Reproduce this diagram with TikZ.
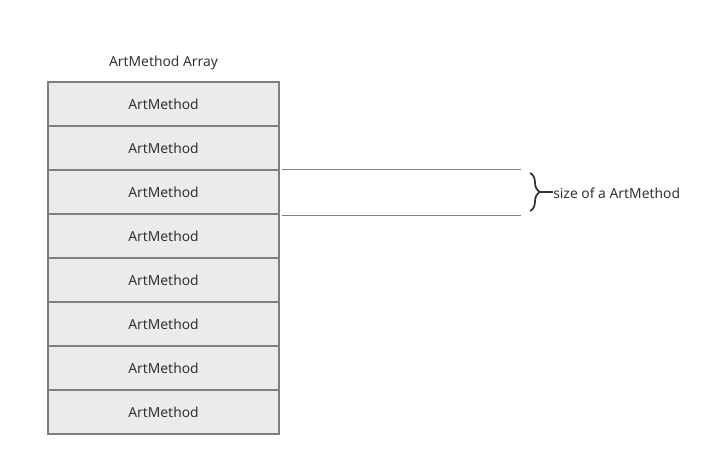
\documentclass[tikz,border=0pt]{standalone}
\usepackage{fontspec}
\setmainfont{Noto Sans}
\usetikzlibrary{decorations.pathreplacing}
\definecolor{cellfill}{HTML}{EBEBEB}
\definecolor{cellline}{HTML}{7F7F7F}
\definecolor{txt}{HTML}{333333}
\tikzset{
  cell/.style={draw=cellline, line width=1.4pt, fill=cellfill, minimum width=173.25pt, minimum height=33pt, inner sep=0pt, text=txt, font=\fontsize{10.4}{12}\selectfont},
  label text/.style={text=txt, font=\fontsize{10.4}{12}\selectfont, inner sep=0pt},
  guide/.style={draw=cellline, line width=0.6pt}
}
\begin{document}
\begin{tikzpicture}[x=0.75pt, y=-0.75pt]
        \useasboundingbox (0,0) rectangle (715,466);
        % array title
        \node[label text] (title) at (163.5,63) {ArtMethod Array};
        
        % array cells
        \foreach \i in {1,...,8}
            \node[cell] (m\i) at (163.5,{104+44*(\i-1)}) {\raisebox{-0.75pt}{ArtMethod}};
        
        % size guides
        \coordinate (g1s) at (282,169);
        \coordinate (g1e) at (521,169);
        \coordinate (g2s) at (282,215);
        \coordinate (g2e) at (521,215);
        \draw[guide] (g1s) -- (g1e);
        \draw[guide] (g2s) -- (g2e);
        
        %% brace
        \coordinate (bt) at (530,173);
        \coordinate (bb) at (530,211);
        \draw[txt, line width=1.3pt, decorate, decoration={brace, amplitude=7.5pt}] (bt) -- (bb);
        \node[label text, anchor=west] (size) at (553,193) {size of a ArtMethod};
        \coordinate (tip) at (540,192);
        \draw[txt, line width=1.3pt] (tip) -- (553,192);
        
    \end{tikzpicture}
\end{document}
